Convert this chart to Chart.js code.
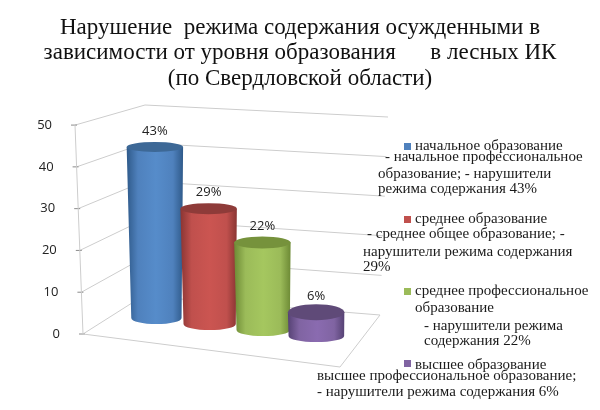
<!DOCTYPE html>
<html lang="ru"><head><meta charset="utf-8">
<style>html,body{margin:0;background:#fff}#w{width:600px;height:410px}canvas{filter:blur(.4px)}</style>
<script src="https://cdn.jsdelivr.net/npm/chart.js@4"></script></head>
<body><div id="w"><canvas id="c" width="600" height="410"></canvas></div>
<script>
const categories = ["начальное образование","среднее образование","среднее профессиональное образование","высшее образование"];
const values = [43,29,22,6];
const yTicks = [0,10,20,30,40,50];
const titleLines = ["Нарушение  режима содержания осужденными в","зависимости от уровня образования      в лесных ИК","(по Свердловской области)"];
const legendHead = [["начальное образование"],["среднее образование"],["среднее профессиональное","образование"],["высшее образование"]];
const legendBody = [["- начальное профессиональное","образование; - нарушители","режима содержания 43%"],["- среднее общее образование; -","нарушители режима содержания","29%"],["- нарушители режима","содержания 22%"],["высшее профессиональное образование;","- нарушители режима содержания 6%"]];
const barColors = ["#4f81bd","#c0504d","#9bbb59","#8064a2"];
const barLight = ["#568cca","#cb5551","#a5c75f","#8a6bb0"];
const barDark = ["#2f5a8a","#8a3533","#6d8a35","#564274"];
const barTop = ["#3d6896","#8e3b39","#76923c","#5f4a78"];

const FS = '"Liberation Serif"';
const legendPos = [
 {sq:[404,143],head:[[415,146]],body:[[385,157],[378,174],[378,189]]},
 {sq:[404,216],head:[[415,219]],body:[[367,234],[363,252],[363,267]]},
 {sq:[404,288],head:[[415,291],[415,308]],body:[[424,326],[424,341]]},
 {sq:[404,360],head:[[415,365]],body:[[317,376],[317,392]]}
];
const topRy=[5,5.5,6,8], skew=6;

const walls = {
  id:'walls',
  beforeDraw(ch){
    const y=ch.scales.y, c=ch.ctx;
    if(!ch._sk){ y.getLabelItems().forEach((it,i)=>{const v=y.ticks[i].value; it.options.translation[0]-= (v/50)*8;}); ch._sk=true; }
    const L=v=>[83-(v/50)*8,y.getPixelForValue(v)], B=v=>[143+(v/50)*2,296-(v/50)*191], R=v=>[380+(v/50)*8,315-(v/50)*198];
    c.save(); c.strokeStyle='#cdcdcd'; c.lineWidth=1;
    yTicks.forEach(v=>{const a=L(v),b=B(v),r=R(v);c.beginPath();c.moveTo(...a);c.lineTo(...b);c.lineTo(...r);c.stroke();
      c.save();c.strokeStyle='#8c8c8c';c.beginPath();c.moveTo(a[0]-4,a[1]);c.lineTo(a[0]+2,a[1]);c.stroke();c.restore();});
    c.beginPath();c.moveTo(...L(50));c.lineTo(...L(0));c.lineTo(340,367);c.lineTo(...R(0));c.stroke();
    c.restore();
  },
  beforeDatasetDraw(ch,args){
    const c=ch.ctx, metas=args.meta.data;
    metas.forEach((el,i)=>{
      const h=el.base-el.y, w=el.width/2, yT=el.y+i*skew, yB=el.base+i*skew;
      const xT=el.x, wB=w-h*0.018, xB=el.x+h*0.009;
      const g=c.createLinearGradient(el.x-w,0,el.x+w,0);
      g.addColorStop(0,barDark[i]);g.addColorStop(.2,barColors[i]);g.addColorStop(.52,barLight[i]);g.addColorStop(.82,barColors[i]);g.addColorStop(1,barDark[i]);
      c.save();c.fillStyle=g;c.beginPath();c.moveTo(xT-w,yT);c.lineTo(xB-wB,yB);
      c.ellipse(xB,yB,wB,6,0,Math.PI,0,true);c.lineTo(xT+w,yT);c.closePath();c.fill();
      c.fillStyle=barTop[i];c.beginPath();c.ellipse(xT,yT,w,topRy[i],0,0,Math.PI*2);c.fill();
      c.restore();
      c.save();c.fillStyle='#222';c.font='13px "Open Sans"';c.textAlign='center';c.textBaseline='middle';
      c.fillText(values[i]+'%',xT,yT-16);c.restore();
    });
    return false;
  },
  afterDraw(ch){
    const c=ch.ctx;c.save();c.textBaseline='middle';c.textAlign='left';c.font='15px '+FS;c.fillStyle='#1a1a1a';
    legendPos.forEach((p,i)=>{
      c.save();c.fillStyle=barColors[i];c.fillRect(p.sq[0],p.sq[1],7,7);c.restore();
      legendHead[i].forEach((t,k)=>c.fillText(t,...p.head[k]));
      legendBody[i].forEach((t,k)=>c.fillText(t,...p.body[k]));
    });
    c.restore();
  }
};

new Chart(document.getElementById('c'),{
  type:'bar',
  data:{labels:categories,datasets:[{data:values,yAxisID:'y1',backgroundColor:barColors,barPercentage:1.05,categoryPercentage:1}]},
  plugins:[walls],
  options:{
    responsive:false,animation:false,
    layout:{padding:{left:0,right:0,top:0,bottom:76}},
    plugins:{legend:{display:false},tooltip:{enabled:false},
      title:{display:true,text:titleLines,color:'#111',font:{family:'Liberation Serif',size:23,weight:'normal',lineHeight:1.11},padding:{top:15,bottom:33.5}}},
    scales:{
      x:{display:false,grid:{display:false}},
      y:{min:0,max:50,position:'left',afterFit(s){s.width=128;},grid:{display:false},border:{display:false},
        ticks:{stepSize:10,padding:60,color:'#222',font:{family:'Open Sans',size:13}}},
      y1:{display:true,position:'right',min:-4,max:48.5,afterFit(s){s.width=257;},grid:{display:false},border:{display:false},ticks:{display:false}}
    }
  }
});
</script></body></html>
